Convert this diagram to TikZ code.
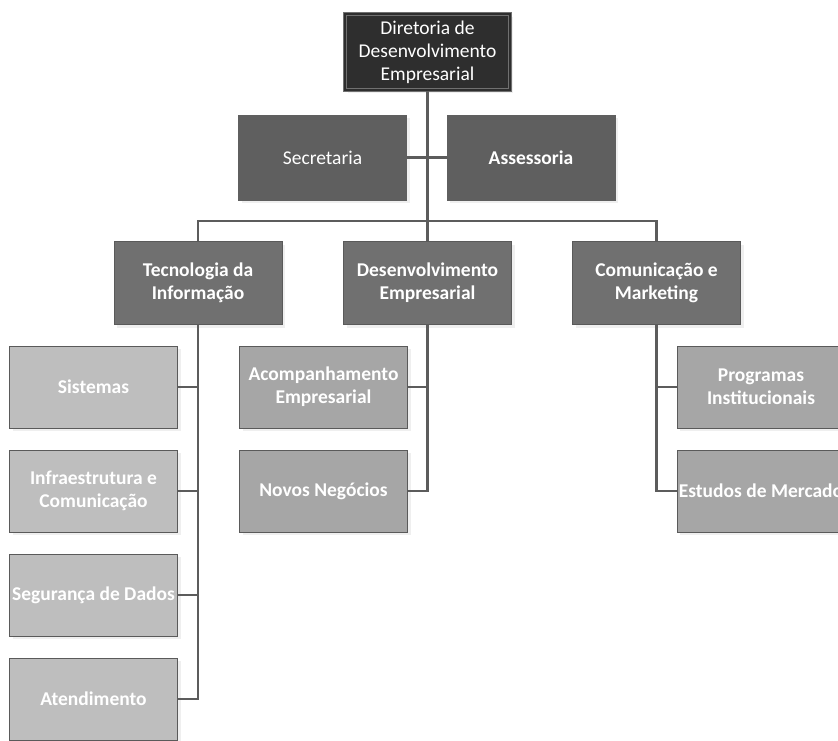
\documentclass[tikz,border=0pt]{standalone}
\usepackage{fontspec}
\setmainfont{Carlito}
\usetikzlibrary{shadows}
\definecolor{topfill}{HTML}{2E2E2E}
\definecolor{topline}{HTML}{707070}
\definecolor{lvlone}{HTML}{5F5F5F}
\definecolor{lvltwo}{HTML}{707070}
\definecolor{leaflight}{HTML}{BEBEBE}
\definecolor{leafmid}{HTML}{A6A6A6}
\definecolor{edge}{HTML}{5A5A5A}
\definecolor{wire}{HTML}{5C5C5C}
\tikzset{
  orgbox/.style={rectangle, minimum width=168pt, minimum height=82pt,
    inner sep=0pt, align=center, text=white,
    font=\fontsize{19.5}{23}\selectfont\bfseries,
    drop shadow={shadow xshift=3pt, shadow yshift=-3pt, fill=black!12}},
  headbox/.style={orgbox, fill=topfill, draw=topline, double=topfill,
    line width=1.2pt, double distance=2pt, minimum width=165pt,
    minimum height=76pt, font=\fontsize{19.5}{23}\selectfont},
  staffbox/.style={orgbox, fill=lvlone, draw=lvlone, minimum height=85pt},
  deptbox/.style={orgbox, fill=lvltwo, draw=edge, line width=1pt, minimum height=83pt},
  leafA/.style={orgbox, fill=leaflight, draw=edge, line width=1pt},
  leafB/.style={orgbox, fill=leafmid, draw=edge, line width=1pt},
  conn/.style={draw=wire, line width=2.4pt}
}
\begin{document}
\begin{tikzpicture}[x=1pt, y=-1pt]
  \useasboundingbox (0,0) rectangle (838,740);

  % head of the directorate
  \node[headbox] (dir) at (427.5,52) {Diretoria de\\Desenvolvimento\\Empresarial};

  % staff units
  \node[staffbox, font=\fontsize{19.5}{23}\selectfont] (sec) at (322.5,157.5) {Secretaria};
  \node[staffbox] (ass) at (531,157.5) {Assessoria};

  % departments
  \node[deptbox] (ti)  at (198,283)   {Tecnologia da\\Informação};
  \node[deptbox] (dev) at (427.5,283) {Desenvolvimento\\Empresarial};
  \node[deptbox] (com) at (656.5,283) {Comunicação e\\Marketing};

  % units under Tecnologia da Informação
  \node[leafA] (sis) at (93.5,387) {Sistemas};
  \node[leafA] (inf) at (93.5,491) {Infraestrutura e\\Comunicação};
  \node[leafA] (seg) at (93.5,595) {Segurança de Dados};
  \node[leafA] (ate) at (93.5,699) {Atendimento};

  % units under Desenvolvimento Empresarial
  \node[leafB] (aco) at (323.5,387) {Acompanhamento\\Empresarial};
  \node[leafB] (nov) at (323.5,491) {Novos Negócios};

  % units under Comunicação e Marketing
  \node[leafB] (pro) at (761,387) {Programas\\Institucionais};
  \node[leafB] (est) at (761,491) {Estudos de Mercado};

  \coordinate (bar) at (427.5,221);

  % connectors
  \draw[conn] (sec.east) -- (ass.west);
  \draw[conn] (dir.south) -- (bar);
  \draw[conn] (ti.north) -- (ti.north |- bar) -- (com.north |- bar) -- (com.north);
  \draw[conn] (bar) -- (dev.north);

  \draw[conn] (ti.south) |- (sis.east);
  \draw[conn] (ti.south) |- (inf.east);
  \draw[conn] (ti.south) |- (seg.east);
  \draw[conn] (ti.south) |- (ate.east);

  \draw[conn] (dev.south) |- (aco.east);
  \draw[conn] (dev.south) |- (nov.east);

  \draw[conn] (com.south) |- (pro.west);
  \draw[conn] (com.south) |- (est.west);
\end{tikzpicture}
\end{document}
